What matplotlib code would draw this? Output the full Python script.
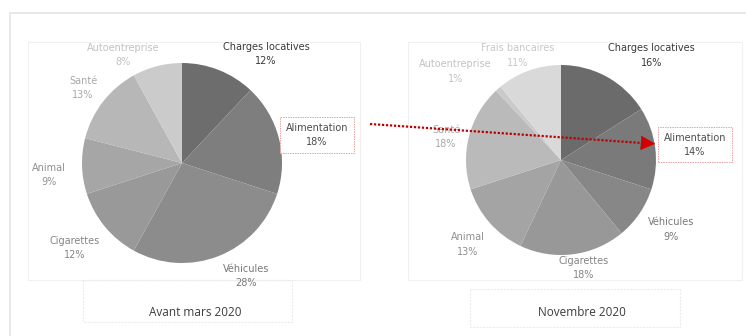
import matplotlib
matplotlib.use('Agg')
import matplotlib.pyplot as plt
from matplotlib.patches import Rectangle

plt.rcParams['font.family'] = ['Liberation Sans Narrow', 'DejaVu Sans']

# Data
cats_avant = ['Charges locatives', 'Alimentation', 'Véhicules', 'Cigarettes',
              'Animal', 'Santé', 'Autoentreprise']
vals_avant = [12, 18, 28, 12, 9, 13, 8]
cats_nov = ['Charges locatives', 'Alimentation', 'Véhicules', 'Cigarettes',
            'Animal', 'Santé', 'Autoentreprise', 'Frais bancaires']
vals_nov = [16, 14, 9, 18, 13, 18, 1, 11]
titles = ['Avant mars 2020', 'Novembre 2020']

# Styles
cols_avant = ['#6d6d6d', '#7e7e7e', '#8c8c8c', '#999999', '#a6a6a6', '#b7b7b7', '#cbcbcb']
cols_nov = ['#6b6b6b', '#7a7a7a', '#878787', '#989898', '#a4a4a4', '#bababa', '#cacaca', '#d9d9d9']
txt_avant = ['#3a3a3a', '#4c4c4c', '#787878', '#858585', '#909090', '#a8a8a8', '#c2c2c2']
txt_nov = ['#3a3a3a', '#4c4c4c', '#787878', '#858585', '#909090', '#a8a8a8', '#c2c2c2', '#c8c8c8']

# label positions in pie-radius units
pos_avant = [(0.84, 1.09), (1.35, 0.28), (0.64, -1.13), (-1.07, -0.85),
             (-1.33, -0.12), (-0.99, 0.75), (-0.59, 1.08)]
pos_nov = [(0.95, 1.10), (1.41, 0.16), (1.16, -0.73), (0.24, -1.14),
           (-0.98, -0.89), (-1.21, 0.24), (-1.11, 0.93), (-0.46, 1.10)]

W, H = 746, 336
fig = plt.figure(figsize=(W / 100, H / 100), dpi=100)

# background overlay in pixel coordinates (frames, titles)
bg = fig.add_axes([0, 0, 1, 1], zorder=0)
bg.set_xlim(0, W)
bg.set_ylim(H, 0)
bg.axis('off')
bg.plot([10, 10, W], [H, 13, 13], color='#e4e4e4', lw=1.2)
for x0, x1 in [(28, 360), (408, 742)]:
    bg.add_patch(Rectangle((x0, 42), x1 - x0, 238, fill=False, ec='#f0f0f0', lw=0.8))
for x0, x1, y0, y1 in [(83, 292, 280, 322), (470, 680, 289, 327)]:
    bg.add_patch(Rectangle((x0, y0), x1 - x0, y1 - y0, fill=False, ec='#ececec',
                           lw=0.8, ls=(0, (2, 1))))


def draw_pie(cx, cy, r, vals, cats, cols, tcols, lpos, title, tx):
    ax = fig.add_axes([(cx - r) / W, (H - cy - r) / H, 2 * r / W, 2 * r / H], zorder=2)
    ax.pie(vals, colors=cols, startangle=90, counterclock=False,
           wedgeprops=dict(linewidth=0))
    ax.set_xlim(-1, 1)
    ax.set_ylim(-1, 1)
    ax.set_aspect('auto')
    for c, v, tc, (lx, ly) in zip(cats, vals, tcols, lpos):
        kw = {}
        if c == 'Alimentation':
            kw['bbox'] = dict(boxstyle='square,pad=0.55', fc='white', ec='#e3a3a3',
                              lw=0.7, ls=(0, (1.5, 1)))
        ax.text(lx, ly, f'{c}\n{v}%', ha='center', va='center', fontsize=7,
                color=tc, linespacing=1.55, clip_on=False, **kw)
    bg.text(tx, 312, title, ha='center', va='center', fontsize=8.5, color='#3c3c3c',
            family=['Open Sans', 'DejaVu Sans'])
    return ax


draw_pie(182, 163, 100, vals_avant, cats_avant, cols_avant, txt_avant, pos_avant,
         titles[0], 195)
draw_pie(561, 160, 95, vals_nov, cats_nov, cols_nov, txt_nov, pos_nov,
         titles[1], 582)

# red dotted arrow on top
top = fig.add_axes([0, 0, 1, 1], zorder=5)
top.set_xlim(0, W)
top.set_ylim(H, 0)
top.axis('off')
top.plot([370, 648], [124, 143.4], color='#c00000', lw=1.6, ls=(0, (1, 0.8)))
top.annotate('', xy=(658, 144), xytext=(646, 143.2),
             arrowprops=dict(arrowstyle='-|>,head_length=0.8,head_width=0.4',
                             color='#d00000', lw=0.5, mutation_scale=12))

fig.savefig('out.png', dpi=100, facecolor='white')
